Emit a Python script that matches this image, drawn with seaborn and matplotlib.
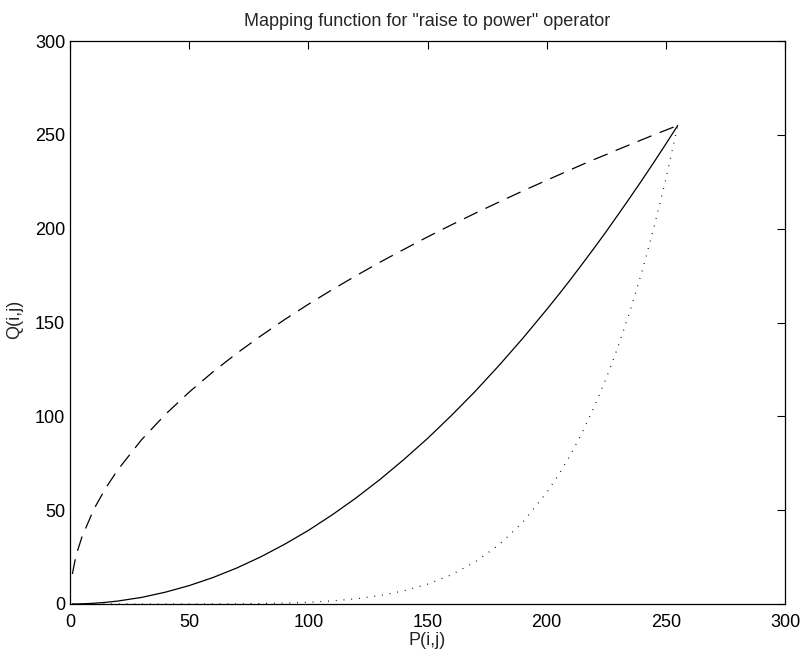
import numpy as np
import pandas as pd
import matplotlib
matplotlib.use('Agg')
import matplotlib.pyplot as plt
import seaborn as sns

# ── 読み取った値（グラフから目視） ─────────────────────────
P = [1, 2, 3, 5, 10, 15, 20, 30, 40, 50, 60, 70, 80, 90, 100, 110, 120,
     130, 140, 150, 160, 170, 180, 190, 200, 205, 210, 215, 220, 225,
     230, 235, 240, 245, 250, 255]

Q_dashed = [16.0, 22.6, 27.7, 35.7, 50.5, 61.8, 71.4, 87.5, 101.0, 112.9,
            123.7, 133.6, 142.8, 151.5, 159.7, 167.5, 174.9, 182.1, 188.9,
            195.6, 202.0, 208.2, 214.2, 220.1, 225.8, 228.6, 231.4, 234.2,
            236.9, 239.5, 242.2, 244.8, 247.4, 250.0, 252.5, 255.0]

Q_solid = [0.0, 0.02, 0.04, 0.1, 0.39, 0.88, 1.57, 3.5, 6.3, 9.8, 14.1, 19.2,
           25.1, 31.8, 39.2, 47.5, 56.5, 66.3, 76.9, 88.2, 100.4, 113.3,
           127.1, 141.6, 156.9, 164.8, 172.9, 181.3, 189.8, 198.5, 207.5,
           216.6, 225.9, 235.4, 245.1, 255.0]

Q_dotted = [0.0, 0.0, 0.0, 0.0, 0.0, 0.0, 0.0, 0.0, 0.004, 0.014, 0.043,
            0.11, 0.24, 0.49, 0.93, 1.64, 2.77, 4.48, 6.98, 10.56, 15.56,
            22.39, 31.54, 43.6, 59.4, 68.8, 79.5, 91.6, 105.2, 120.3, 137.3,
            156.2, 177.2, 200.6, 226.4, 255.0]

TICKS = [0, 50, 100, 150, 200, 250, 300]

df = pd.DataFrame({'P': P, 'dashed': Q_dashed, 'solid': Q_solid, 'dotted': Q_dotted})

sns.set_style('white')
plt.rcParams['font.family'] = ['Liberation Sans', 'DejaVu Sans']

fig = plt.figure(figsize=(8.03, 6.55), dpi=100)
ax = fig.add_axes([70/803, 1-604/655, 715/803, 563/655])

# 実線 (r=2), 破線 (r=0.5), 点線 (r=6)
sns.lineplot(data=df, x='P', y='solid', color='black', linewidth=0.9, ax=ax)
sns.lineplot(data=df, x='P', y='dashed', color='black', linewidth=0.9,
             linestyle=(0, (12, 7)), ax=ax)
sns.lineplot(data=df, x='P', y='dotted', color='black', linewidth=0.9,
             linestyle=(0, (0.7, 5.5)), ax=ax)

ax.set_xlim(0, 300)
ax.set_ylim(0, 300)
ax.set_xticks(TICKS)
ax.set_yticks(TICKS)
ax.tick_params(direction='in', length=6, width=0.8, top=True, right=True,
               labelsize=13, colors='black')
ax.tick_params(axis='x', pad=7)
ax.tick_params(axis='y', pad=3.5)
for s in ax.spines.values():
    s.set_visible(True)
    s.set_color('black')
    s.set_linewidth(0.9)

ax.set_xlabel('P(i,j)', fontsize=13, labelpad=1)
ax.set_ylabel('Q(i,j)', fontsize=13, labelpad=6)
ax.yaxis.set_label_coords(-0.066, 0.505)
ax.set_title('Mapping function for "raise to power" operator', fontsize=13, pad=11)

plt.savefig('out.png', dpi=100)
plt.close()
